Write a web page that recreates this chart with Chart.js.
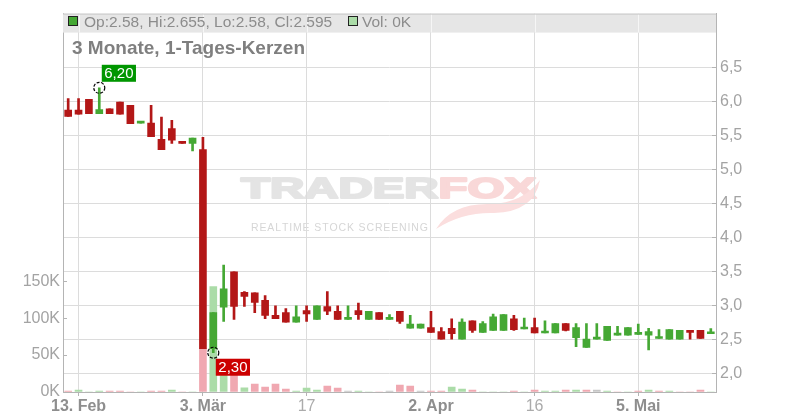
<!DOCTYPE html>
<html>
<head>
<meta charset="utf-8">
<script src="https://cdn.jsdelivr.net/npm/chart.js@4.4.1/dist/chart.umd.min.js"></script>
<style>
  html, body { margin: 0; padding: 0; background: #fff; }
  #wrap { width: 800px; height: 420px; }
</style>
</head>
<body>
<div id="wrap"><canvas id="chart" width="800" height="420"></canvas></div>
<script>
// daily candles, 12.02. - 14.05.
const dates = ['12.02.','13.02.','14.02.','17.02.','18.02.','19.02.','20.02.','21.02.','24.02.','25.02.','26.02.','27.02.','28.02.',
  '03.03.','04.03.','05.03.','06.03.','07.03.','10.03.','11.03.','12.03.','13.03.','14.03.','17.03.','18.03.','19.03.','20.03.','21.03.',
  '24.03.','25.03.','26.03.','27.03.','28.03.','31.03.','01.04.','02.04.','03.04.','04.04.','07.04.','08.04.','09.04.','10.04.','11.04.',
  '14.04.','15.04.','16.04.','17.04.','22.04.','23.04.','24.04.','25.04.','28.04.','29.04.','30.04.','02.05.','05.05.','06.05.','07.05.',
  '08.05.','09.05.','12.05.','13.05.','14.05.'];
const opens = [5.87,5.87,6.03,5.82,5.89,5.99,5.94,5.68,5.68,5.44,5.60,5.41,5.38,
  5.29,2.36,2.97,3.49,3.19,3.18,3.07,2.85,2.89,2.75,2.92,2.79,2.98,2.91,2.79,
  2.92,2.79,2.89,2.79,2.91,2.66,2.66,2.67,2.61,2.66,2.50,2.77,2.60,2.63,2.63,
  2.80,2.65,2.67,2.59,2.59,2.73,2.52,2.38,2.50,2.48,2.56,2.56,2.57,2.56,2.51,
  2.50,2.50,2.63,2.63,2.58];
const highs = [6.04,6.04,6.03,6.20,5.89,5.99,5.94,5.68,5.94,5.77,5.72,5.41,5.46,
  5.47,2.89,3.59,3.49,3.20,3.18,3.14,2.99,2.95,2.99,2.99,2.99,3.20,2.99,2.99,
  3.03,2.91,2.89,2.86,2.91,2.85,2.72,2.91,2.67,2.80,2.80,2.77,2.76,2.87,2.86,
  2.85,2.81,2.81,2.77,2.73,2.73,2.73,2.73,2.73,2.69,2.69,2.67,2.72,2.66,2.64,
  2.64,2.63,2.63,2.63,2.655];
const lows = [5.78,5.81,5.82,5.82,5.82,5.81,5.67,5.68,5.48,5.29,5.38,5.38,5.27,
  2.36,2.30,2.76,2.79,2.98,2.89,2.80,2.80,2.75,2.75,2.76,2.79,2.86,2.79,2.79,
  2.79,2.79,2.79,2.79,2.73,2.66,2.66,2.60,2.50,2.50,2.50,2.60,2.60,2.63,2.63,
  2.63,2.65,2.59,2.59,2.59,2.62,2.39,2.38,2.50,2.48,2.56,2.56,2.57,2.34,2.51,
  2.50,2.50,2.50,2.51,2.58];
const closes = [5.78,5.81,5.82,5.88,5.82,5.81,5.67,5.68,5.48,5.29,5.43,5.38,5.46,
  2.36,2.89,3.24,2.98,3.13,3.04,2.85,2.80,2.75,2.83,2.87,2.99,2.91,2.79,2.79,
  2.86,2.91,2.79,2.79,2.76,2.72,2.72,2.60,2.50,2.58,2.75,2.63,2.73,2.83,2.86,
  2.64,2.67,2.59,2.62,2.73,2.63,2.67,2.50,2.50,2.69,2.56,2.67,2.57,2.61,2.51,
  2.64,2.63,2.60,2.51,2.595];
const volumes = [1300,2700,0,1300,1300,1300,0,0,1300,1300,2700,0,0,
  58700,142500,30000,30000,5800,10800,6700,10800,4000,1300,5400,2700,8000,5400,1300,
  1300,0,0,1300,9400,8000,1300,1300,1300,6700,4000,2700,0,0,0,
  1300,0,2700,1300,1300,2700,2700,2700,2700,1300,0,0,1300,2700,1300,
  1300,0,0,2700,0];

const tickDates = ['13.02.','03.03.','17.03.','02.04.','16.04.','05.05.'];
const tickLabels = ['13. Feb','3. Mär','17','2. Apr','16','5. Mai'];
const priceTicks = [2.0,2.5,3.0,3.5,4.0,4.5,5.0,5.5,6.0,6.5];
const volTicks = [0,50000,100000,150000];

const FONT = '"Liberation Sans", Arial, sans-serif';
const GREEN = '#45a834', RED = '#b31717';
const VOL_UP = '#abdca8', VOL_DOWN = '#f0a8b1', VOL_FLAT = '#c6c6c6';
const AXIS = '#b4b4b4', GRID = '#dcdcdc';

const candleColors = opens.map((o, i) => closes[i] >= o ? GREEN : RED);
const volColors = volumes.map((v, i) => {
  const prev = i ? closes[i - 1] : opens[0];
  if (closes[i] > prev) return VOL_UP;
  if (closes[i] < prev) return VOL_DOWN;
  return VOL_FLAT;
});
const tickIdx = tickDates.map(d => dates.indexOf(d));
const fmt = v => String(v).replace('.', ',');

const decorations = {
  id: 'decorations',
  beforeDraw(chart) {
    const ctx = chart.ctx;
    // watermark
    ctx.save();
    ctx.font = 'bold 29px ' + FONT;
    ctx.lineJoin = 'round';
    ctx.lineWidth = 2;
    const wT = ctx.measureText('TRADER').width, wF = ctx.measureText('FOX').width;
    ctx.translate(241, 198);
    ctx.scale(295 / (wT + wF), 1);
    ctx.fillStyle = ctx.strokeStyle = '#e4e4e4';
    ctx.fillText('TRADER', 0, 0);
    ctx.strokeText('TRADER', 0, 0);
    ctx.fillStyle = ctx.strokeStyle = '#f9d8d8';
    ctx.fillText('FOX', wT, 0);
    ctx.strokeText('FOX', wT, 0);
    ctx.restore();

    ctx.save();
    ctx.font = '10.5px ' + FONT;
    ctx.fillStyle = '#d6d6d6';
    const sub = 'REALTIME STOCK SCREENING';
    const nat = ctx.measureText(sub).width;
    const gap = (176 - nat) / (sub.length - 1);
    let x = 251;
    for (const ch of sub) {
      ctx.fillText(ch, x, 231);
      x += ctx.measureText(ch).width + gap;
    }
    // fox tail swoosh
    ctx.fillStyle = '#fbdede';
    ctx.beginPath();
    ctx.moveTo(436, 229);
    ctx.quadraticCurveTo(452, 203, 490, 204);
    ctx.quadraticCurveTo(523, 203, 540, 180);
    ctx.quadraticCurveTo(534, 212, 494, 213);
    ctx.quadraticCurveTo(462, 212, 436, 229);
    ctx.fill();
    ctx.restore();
  },
  afterDraw(chart) {
    const ctx = chart.ctx;
    const { left, right, top } = chart.chartArea;
    const x = chart.scales.x, y = chart.scales.y, yVol = chart.scales.yVol;

    // inner tick marks
    ctx.save();
    ctx.strokeStyle = AXIS;
    ctx.lineWidth = 1;
    ctx.beginPath();
    priceTicks.forEach(v => {
      const py = Math.round(y.getPixelForValue(v)) + 0.5;
      ctx.moveTo(right - 4, py); ctx.lineTo(right, py);
    });
    volTicks.forEach(v => {
      const py = Math.round(yVol.getPixelForValue(v)) + 0.5;
      ctx.moveTo(left, py); ctx.lineTo(left + 4, py);
    });
    ctx.stroke();

    // legend band
    ctx.fillStyle = '#e6e6e6';
    ctx.fillRect(left, top, right - left, 19);
    ctx.strokeStyle = '#f6f6f6';
    ctx.beginPath();
    tickIdx.forEach(i => {
      const px = Math.round(x.getPixelForValue(i)) + 0.5;
      ctx.moveTo(px, top); ctx.lineTo(px, top + 19);
    });
    ctx.stroke();
    ctx.strokeStyle = '#c8c8c8';
    ctx.beginPath();
    ctx.moveTo(left, top + 0.5); ctx.lineTo(right, top + 0.5);
    ctx.stroke();

    const n = opens.length - 1;
    ctx.lineWidth = 1;
    ctx.strokeStyle = '#222';
    ctx.fillStyle = GREEN;
    ctx.fillRect(68.5, 16.5, 9, 9);
    ctx.strokeRect(68.5, 16.5, 9, 9);
    ctx.fillStyle = VOL_UP;
    ctx.fillRect(348.5, 16.5, 9, 9);
    ctx.strokeRect(348.5, 16.5, 9, 9);
    ctx.font = '15.5px ' + FONT;
    ctx.fillStyle = '#8c8c8c';
    ctx.textBaseline = 'alphabetic';
    ctx.fillText(`Op:${opens[n]}, Hi:${highs[n]}, Lo:${lows[n]}, Cl:${closes[n]}`, 84, 27);
    ctx.fillText(`Vol: ${Math.round(volumes[n] / 1000)}K`, 362, 27);

    // title
    ctx.font = 'bold 19px ' + FONT;
    ctx.fillStyle = '#7f7f7f';
    ctx.fillText('3 Monate, 1-Tages-Kerzen', 72, 54);

    // high / low markers
    const hiIdx = highs.indexOf(Math.max(...highs));
    const loIdx = lows.indexOf(Math.min(...lows));
    const marks = [
      { i: hiIdx, v: highs[hiIdx], color: '#009600', up: true },
      { i: loIdx, v: lows[loIdx], color: '#cc0000', up: false }
    ];
    ctx.font = '15px ' + FONT;
    marks.forEach(m => {
      const cx = x.getPixelForValue(m.i), cy = y.getPixelForValue(m.v);
      ctx.setLineDash([3, 1.5]);
      ctx.lineWidth = 1.2;
      ctx.strokeStyle = '#000';
      ctx.beginPath();
      ctx.arc(cx, cy, 5.5, 0, Math.PI * 2);
      ctx.stroke();
      ctx.setLineDash([]);
      const txt = m.v.toFixed(2).replace('.', ',');
      const w = ctx.measureText(txt).width + 5;
      const bx = cx + 2.5, by = m.up ? cy - 23 : cy + 6;
      ctx.fillStyle = m.color;
      ctx.fillRect(bx, by, w, 17);
      ctx.fillStyle = '#fff';
      ctx.textAlign = 'center';
      ctx.textBaseline = 'middle';
      ctx.fillText(txt, bx + w / 2, by + 9);
      ctx.textAlign = 'left';
      ctx.textBaseline = 'alphabetic';
    });
    ctx.restore();
  }
};

new Chart(document.getElementById('chart'), {
  type: 'bar',
  data: {
    labels: dates,
    datasets: [
      {
        label: 'Kerze',
        data: opens.map((o, i) => [o, closes[i]]),
        yAxisID: 'y',
        backgroundColor: candleColors,
        barThickness: 7,
        minBarLength: 2,
        grouped: false,
        order: 1
      },
      {
        label: 'Docht',
        data: lows.map((l, i) => [l, highs[i]]),
        yAxisID: 'y',
        backgroundColor: candleColors,
        barThickness: 2,
        grouped: false,
        order: 2
      },
      {
        label: 'Vol',
        data: volumes,
        yAxisID: 'yVol',
        backgroundColor: volColors,
        barThickness: 7,
        grouped: false,
        order: 3
      }
    ]
  },
  options: {
    responsive: false,
    animation: false,
    devicePixelRatio: 1,
    layout: { padding: { top: 11, left: 0, right: 0, bottom: 0 } },
    plugins: { legend: { display: false }, tooltip: { enabled: false } },
    scales: {
      x: {
        type: 'category',
        offset: true,
        grid: { offset: false, color: GRID, tickLength: 4, tickColor: AXIS },
        border: { color: AXIS },
        afterBuildTicks: s => { s.ticks = tickIdx.map(i => ({ value: i })); },
        afterFit: s => { s.height = 28; },
        ticks: {
          autoSkip: false,
          maxRotation: 0,
          padding: 1,
          callback: v => tickLabels[tickIdx.indexOf(v)],
          font: c => ({ family: FONT, size: 16, weight: tickLabels[c.index].length > 2 ? 'bold' : 'normal' }),
          color: c => tickLabels[c.index].length > 2 ? '#8e8e8e' : '#ababab'
        }
      },
      y: {
        position: 'right',
        min: 1.722,
        max: 7.292,
        grid: { color: GRID, drawTicks: false },
        border: { color: AXIS },
        afterBuildTicks: s => { s.ticks = priceTicks.map(v => ({ value: v })); },
        afterFit: s => { s.width = 84; },
        ticks: {
          padding: 4,
          color: '#a3a3a3',
          font: { family: FONT, size: 16 },
          callback: v => fmt(v.toFixed(1))
        }
      },
      yVol: {
        position: 'left',
        min: 0,
        max: 512000,
        grid: { drawOnChartArea: false, drawTicks: false },
        border: { color: AXIS },
        afterBuildTicks: s => { s.ticks = volTicks.map(v => ({ value: v })); },
        afterFit: s => { s.width = 63; },
        ticks: {
          padding: 3,
          color: '#a3a3a3',
          font: { family: FONT, size: 16 },
          callback: v => (v / 1000) + 'K'
        }
      }
    }
  },
  plugins: [decorations]
});
</script>
</body>
</html>
